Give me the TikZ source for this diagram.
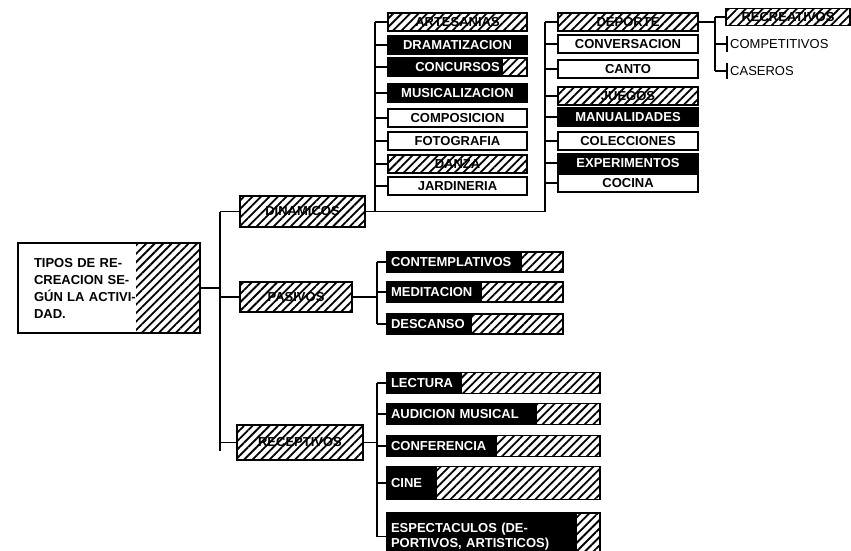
\documentclass[tikz,border=0pt]{standalone}
\usepackage{fontspec}
\setsansfont{Liberation Sans}
\usepackage{tikz}
\usetikzlibrary{patterns.meta}

\begin{document}
\begin{tikzpicture}[
    x=1pt, y=-1pt,
    box/.style={draw, line width=1.6pt, minimum height=18pt, inner sep=2pt, font=\fontsize{13}{15}\sffamily\bfseries},
    hbox/.style={box, pattern={Lines[angle=45, distance=6pt, line width=1.8pt]}, pattern color=black},
    dbox/.style={box, fill=black, text=white},
    pbox/.style={box, fill=white},
    mbox/.style={hbox, text=white, path picture={\fill[black] (path picture bounding box.south west) rectangle ([xshift=#1]path picture bounding box.north west);}},
    mbox/.default=100pt,
    col1/.style={minimum width=139pt},
    col2/.style={minimum width=140pt},
    pitem/.style={minimum width=176pt, minimum height=20pt, text width=168pt, align=left},
    ritem/.style={minimum width=213pt, minimum height=21pt, text width=205pt, align=left},
    list/.style={inner sep=3pt, font=\fontsize{13}{15}\sffamily},
    link/.style={line width=1.3pt}
]
    \useasboundingbox (0,0) rectangle (851,551);
    \clip (0,0) rectangle (851,551);

    % root and first level
    \node[hbox, minimum width=182pt, minimum height=90pt, text width=150pt, align=left,
          font=\fontsize{13}{17}\sffamily\bfseries,
          path picture={\fill[white] (path picture bounding box.south west) rectangle ([xshift=118pt]path picture bounding box.north west);}]
          (root) at (109,288) {TIPOS DE RE-\\CREACION SE-\\GÚN LA ACTIVI-\\DAD.};
    \node[hbox, minimum width=125pt, minimum height=31pt] (din) at (302.5,211.5) {DINAMICOS};
    \node[hbox, minimum width=112pt, minimum height=30pt] (pas) at (296,297) {PASIVOS};
    \node[hbox, minimum width=126pt, minimum height=35pt] (rec) at (300,442.5) {RECEPTIVOS};

    % dinamicos, first column
    \node[hbox, col1] (artes) at (457.5,22) {ARTESANIAS};
    \node[dbox, col1] (drama) at (457.5,45) {DRAMATIZACION};
    \node[mbox=115pt, col1] (concur) at (457.5,67) {CONCURSOS};
    \node[dbox, col1] (musica) at (457.5,93) {MUSICALIZACION};
    \node[pbox, col1] (compos) at (457.5,118) {COMPOSICION};
    \node[pbox, col1] (foto) at (457.5,141) {FOTOGRAFIA};
    \node[hbox, col1] (danza) at (457.5,164) {DANZA};
    \node[pbox, col1] (jardin) at (457.5,186) {JARDINERIA};

    % dinamicos, second column
    \node[hbox, col2] (deporte) at (628,22) {DEPORTE};
    \node[pbox, col2] (conver) at (628,44) {CONVERSACION};
    \node[pbox, col2] (canto) at (628,69) {CANTO};
    \node[hbox, col2] (juegos) at (628,96) {JUEGOS};
    \node[dbox, col2] (manual) at (628,117) {MANUALIDADES};
    \node[pbox, col2] (colecc) at (628,141) {COLECCIONES};
    \node[dbox, col2] (experim) at (628,163) {EXPERIMENTOS};
    \node[pbox, col2] (cocina) at (628,183) {COCINA};

    % deporte
    \node[hbox, minimum width=124pt, minimum height=17pt] (recrea) at (788,17) {RECREATIVOS};
    \node[list, anchor=west] (compet) at (727,44) {COMPETITIVOS};
    \node[list, anchor=west] (caseros) at (727,71) {CASEROS};

    % pasivos
    \node[mbox=135pt, pitem] (contem) at (475,262) {CONTEMPLATIVOS};
    \node[mbox=95pt, pitem] (medita) at (475,292) {MEDITACION};
    \node[mbox=85pt, pitem] (descan) at (475,324) {DESCANSO};

    % receptivos
    \node[mbox=75pt, ritem] (lectura) at (493.5,383) {LECTURA};
    \node[mbox=150pt, ritem] (audic) at (493.5,414) {AUDICION MUSICAL};
    \node[mbox=110pt, ritem] (confer) at (493.5,446) {CONFERENCIA};
    \node[mbox=50pt, ritem, minimum height=33pt] (cine) at (493.5,483) {CINE};
    \node[mbox=190pt, ritem, minimum height=48pt, anchor=north] (espect) at (493.5,512) {ESPECTACULOS (DE-\\PORTIVOS, ARTISTICOS)};

    % forks
    \coordinate (trunk) at (220,0);
    \coordinate (c1fork) at (375,0);
    \coordinate (c2fork) at (545,0);
    \coordinate (subfork) at (377,0);
    \coordinate (dfork) at (715,0);

    \draw[link] (din.west -| trunk) -- ([yshift=-8pt]rec.west -| trunk);
    \draw[link] (root.east) -- (root.east -| trunk);
    \draw[link] (din.west) -- (din.west -| trunk);
    \draw[link] (pas.west) -- (pas.west -| trunk);
    \draw[link] (rec.west) -- (rec.west -| trunk);

    \draw[link] (din.east) -- (din.east -| c2fork);
    \draw[link] (artes.west -| c1fork) -- (din.east -| c1fork);
    \draw[link] (deporte.west -| c2fork) -- (din.east -| c2fork);
    \draw[link] (artes.west) -- (artes.west -| c1fork)
        (drama.west) -- (drama.west -| c1fork)
        (concur.west) -- (concur.west -| c1fork)
        (musica.west) -- (musica.west -| c1fork)
        (compos.west) -- (compos.west -| c1fork)
        (foto.west) -- (foto.west -| c1fork)
        (danza.west) -- (danza.west -| c1fork)
        (jardin.west) -- (jardin.west -| c1fork);
    \draw[link] (deporte.west) -- (deporte.west -| c2fork)
        (conver.west) -- (conver.west -| c2fork)
        (canto.west) -- (canto.west -| c2fork)
        (juegos.west) -- (juegos.west -| c2fork)
        (manual.west) -- (manual.west -| c2fork)
        (colecc.west) -- (colecc.west -| c2fork)
        (experim.west) -- (experim.west -| c2fork)
        (cocina.west) -- (cocina.west -| c2fork);

    \draw[link] (deporte.east) -- (deporte.east -| dfork);
    \draw[link] (recrea.west -| dfork) -- (caseros.west -| dfork);
    \draw[link] (recrea.west) -- (recrea.west -| dfork)
        (compet.west) -- (compet.west -| dfork)
        (caseros.west) -- (caseros.west -| dfork);
    \draw[link] (compet.north west) -- (compet.south west);
    \draw[link] (caseros.north west) -- (caseros.south west);

    \draw[link] (pas.east) -- (pas.east -| subfork);
    \draw[link] (contem.west -| subfork) -- (descan.west -| subfork);
    \draw[link] (contem.west) -- (contem.west -| subfork)
        (medita.west) -- (medita.west -| subfork)
        (descan.west) -- (descan.west -| subfork);

    \draw[link] (rec.east) -- (rec.east -| subfork);
    \draw[link] (lectura.west -| subfork) -- (espect.west -| subfork);
    \draw[link] (lectura.west) -- (lectura.west -| subfork)
        (audic.west) -- (audic.west -| subfork)
        (confer.west) -- (confer.west -| subfork)
        (cine.west) -- (cine.west -| subfork)
        (espect.west) -- (espect.west -| subfork);
\end{tikzpicture}
\end{document}
